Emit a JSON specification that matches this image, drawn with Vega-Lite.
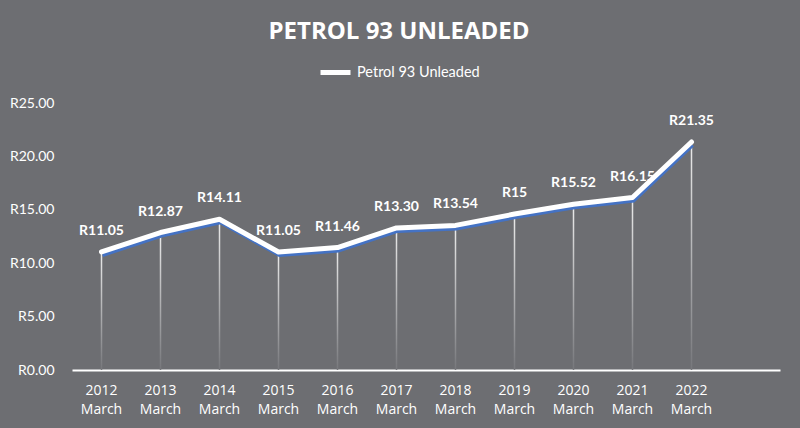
{
  "$schema": "https://vega.github.io/schema/vega-lite/v6.json",
  "autosize": {"type": "none"},
  "width": 708,
  "height": 267,
  "padding": {"left": 72, "top": 103, "right": 20, "bottom": 58},
  "background": "#6d6e72",
  "title": {
    "text": "PETROL 93 UNLEADED",
    "font": "Open Sans",
    "fontSize": 24,
    "fontWeight": "bold",
    "color": "#ffffff",
    "anchor": "middle",
    "dx": -27,
    "offset": 11,
    "limit": 0
  },
  "data": {
    "values": [
      {"period": "2012 March", "price": 11.05, "label": "R11.05", "series": "Petrol 93 Unleaded"},
      {"period": "2013 March", "price": 12.87, "label": "R12.87", "series": "Petrol 93 Unleaded"},
      {"period": "2014 March", "price": 14.11, "label": "R14.11", "series": "Petrol 93 Unleaded"},
      {"period": "2015 March", "price": 11.05, "label": "R11.05", "series": "Petrol 93 Unleaded"},
      {"period": "2016 March", "price": 11.46, "label": "R11.46", "series": "Petrol 93 Unleaded"},
      {"period": "2017 March", "price": 13.30, "label": "R13.30", "series": "Petrol 93 Unleaded"},
      {"period": "2018 March", "price": 13.54, "label": "R13.54", "series": "Petrol 93 Unleaded"},
      {"period": "2019 March", "price": 14.6, "label": "R15", "series": "Petrol 93 Unleaded"},
      {"period": "2020 March", "price": 15.52, "label": "R15.52", "series": "Petrol 93 Unleaded"},
      {"period": "2021 March", "price": 16.15, "label": "R16.15", "series": "Petrol 93 Unleaded"},
      {"period": "2022 March", "price": 21.35, "label": "R21.35", "series": "Petrol 93 Unleaded"}
    ]
  },
  "encoding": {
    "x": {
      "field": "period",
      "type": "ordinal",
      "scale": {
        "domain": ["2012 March", "2013 March", "2014 March", "2015 March", "2016 March", "2017 March", "2018 March", "2019 March", "2020 March", "2021 March", "2022 March", "extra"],
        "paddingInner": 0,
        "paddingOuter": 0
      },
      "axis": {
        "title": null,
        "labelAngle": 0,
        "labelExpr": "datum.value == 'extra' ? '' : split(datum.value, ' ')",
        "labelColor": "#ffffff",
        "labelFont": "Open Sans",
        "labelFontSize": 14,
        "labelLineHeight": 19,
        "labelPadding": 13,
        "ticks": false,
        "domainColor": "#ffffff",
        "domainWidth": 2,
        "grid": false
      }
    },
    "y": {
      "field": "price",
      "type": "quantitative",
      "scale": {"domain": [0, 25], "nice": false},
      "axis": {
        "title": null,
        "values": [0, 5, 10, 15, 20, 25],
        "labelExpr": "'R' + format(datum.value, '.2f')",
        "labelColor": "#ffffff",
        "labelFont": "Lato",
        "labelFontSize": 14,
        "labelPadding": 18,
        "ticks": false,
        "domain": false,
        "grid": false
      }
    }
  },
  "layer": [
    {
      "mark": {
        "type": "bar",
        "size": 1.5,
        "color": {
          "gradient": "linear",
          "x1": 0, "y1": 0, "x2": 0, "y2": 1,
          "stops": [
            {"offset": 0, "color": "#ececec"},
            {"offset": 1, "color": "#76777b"}
          ]
        }
      },
      "encoding": {"y2": {"datum": 0}}
    },
    {
      "mark": {"type": "line", "color": "#4472c4", "strokeWidth": 4, "yOffset": 3, "xOffset": 1},
      "encoding": {}
    },
    {
      "mark": {"type": "line", "color": "#ffffff", "strokeWidth": 5, "strokeCap": "round", "strokeJoin": "round"},
      "encoding": {
        "stroke": {
          "field": "series",
          "type": "nominal",
          "scale": {"range": ["#ffffff"]},
          "legend": {
            "title": null,
            "orient": "none",
            "legendX": 246,
            "legendY": -48,
            "symbolType": "stroke",
            "symbolStrokeWidth": 5,
            "symbolSize": 900,
            "labelColor": "#ffffff",
            "labelFont": "Lato",
            "labelFontSize": 14.5,
            "labelOffset": 4
          }
        }
      }
    },
    {
      "mark": {"type": "text", "color": "#ffffff", "font": "Lato", "fontWeight": "bold", "fontSize": 14, "dy": -21},
      "encoding": {"text": {"field": "label"}}
    }
  ],
  "config": {"view": {"stroke": null}}
}
